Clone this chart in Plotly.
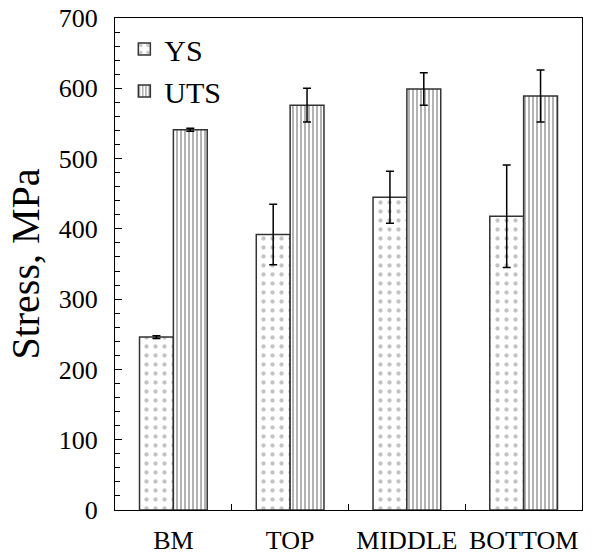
import plotly.graph_objects as go

categories = ["BM", "TOP", "MIDDLE", "BOTTOM"]
ys_values = [246, 392, 445, 418]
ys_errors = [2, 43, 37, 73]
uts_values = [541, 576, 599, 589]
uts_errors = [2, 24, 23, 37]
y_tick_values = [0, 100, 200, 300, 400, 500, 600, 700]

font_family = "Liberation Serif, Times New Roman, serif"

fig = go.Figure()
fig.add_trace(go.Bar(
    x=categories, y=ys_values, name="YS",
    marker=dict(color="white",
                line=dict(color="#333333", width=1.5),
                pattern=dict(shape=".", fgcolor="#888888", bgcolor="white", size=9, solidity=0.18)),
    error_y=dict(type="data", array=ys_errors, color="black", thickness=1.5, width=4),
))
fig.add_trace(go.Bar(
    x=categories, y=uts_values, name="UTS",
    marker=dict(color="white",
                line=dict(color="#333333", width=1.5),
                pattern=dict(shape="|", fgcolor="#555555", bgcolor="white", size=4, solidity=0.45)),
    error_y=dict(type="data", array=uts_errors, color="black", thickness=1.5, width=4),
))

fig.update_layout(
    width=595, height=558,
    margin=dict(l=115, r=13, t=18, b=48),
    paper_bgcolor="white", plot_bgcolor="white",
    barmode="group", bargap=0.42, bargroupgap=0,
    font=dict(family=font_family, color="black", size=26),
    showlegend=True,
    legend=dict(x=0.02, y=0.99, xanchor="left", yanchor="top",
                font=dict(size=30, family=font_family),
                bgcolor="rgba(0,0,0,0)", itemwidth=30),
)
fig.update_xaxes(
    range=[-0.5, 3.5], showline=True, linecolor="black", linewidth=1.2, mirror=True,
    ticks="inside", tickson="boundaries", ticklen=6, tickcolor="black",
    tickfont=dict(size=26, family=font_family), showgrid=False, tickangle=0,
    automargin=False, ticklabelstandoff=7, ticklabeloverflow="allow",
)
fig.update_yaxes(
    range=[0, 700], tickvals=y_tick_values, showline=True, linecolor="black", linewidth=1.2,
    mirror=True, ticks="inside", ticklen=7, tickcolor="black",
    minor=dict(dtick=20, ticks="inside", ticklen=5, tickcolor="black", showgrid=False),
    tickfont=dict(size=26, family=font_family), showgrid=False, zeroline=False,
    automargin=False, ticklabelstandoff=11, ticklabeloverflow="allow",
    title=dict(text="Stress, MPa", font=dict(size=40, family=font_family), standoff=6),
)

# remove the browser's default 8px body margin so the figure fills the window exactly
fig.write_html("out.html", config={"displayModeBar": False},
               post_script="document.body.style.margin='0';")
